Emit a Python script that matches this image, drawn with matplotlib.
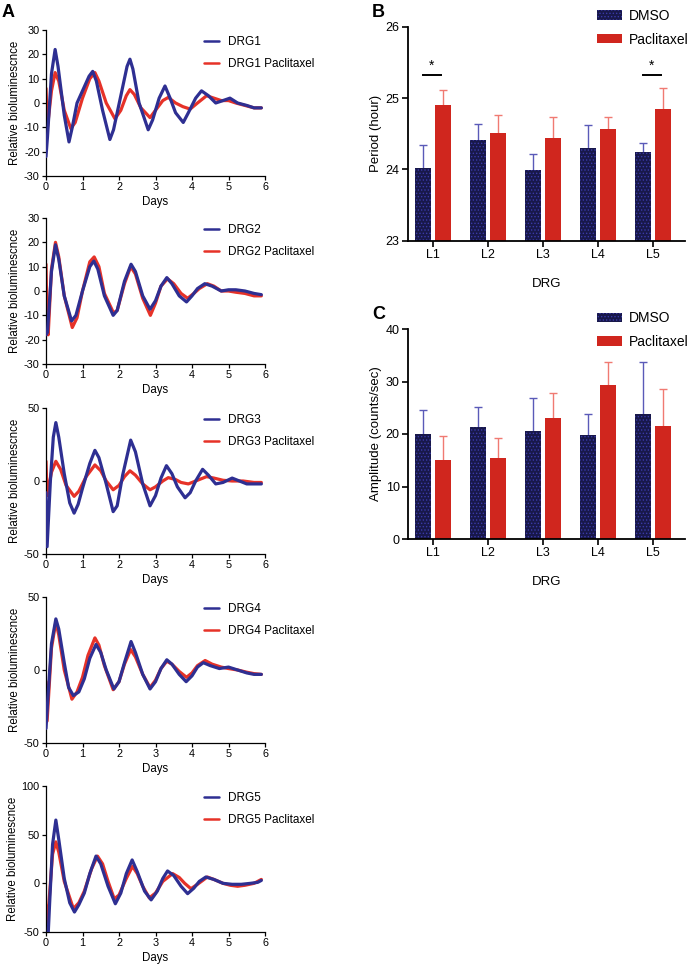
import matplotlib
matplotlib.use("Agg")
import matplotlib.pyplot as plt
import numpy as np

plt.rcParams['font.family'] = ['Liberation Sans', 'DejaVu Sans']
plt.rcParams['axes.unicode_minus'] = False
plt.rcParams['hatch.linewidth'] = 0.6

# ---------------- Panel A data ----------------
drg1_t = [0, 0.04, 0.15, 0.25, 0.33, 0.5, 0.63, 0.72, 0.85, 1.0, 1.18, 1.28, 1.38, 1.55, 1.75, 1.85, 2.05, 2.22, 2.3, 2.38, 2.55, 2.8, 2.92, 3.1, 3.26, 3.4, 3.55, 3.76, 3.9, 4.1, 4.26, 4.45, 4.65, 4.85, 5.04, 5.25, 5.5, 5.7, 5.9]
drg1_y = [-22, -14, 12, 22, 15, -5, -16, -10, 0, 5, 11, 13, 9, -3, -15, -11, 3, 15, 18, 14, 0, -11, -7, 2, 7, 2, -4, -8, -4, 2, 5, 3, 0, 1, 2, 0, -1, -2, -2]
drg1p_t = [0, 0.04, 0.15, 0.25, 0.35, 0.5, 0.68, 0.8, 1.0, 1.2, 1.34, 1.45, 1.65, 1.89, 2.05, 2.2, 2.3, 2.42, 2.6, 2.85, 3.0, 3.2, 3.35, 3.55, 3.75, 3.95, 4.15, 4.4, 4.6, 4.8, 5.0, 5.2, 5.45, 5.7, 5.9]
drg1p_y = [6, -10, 5, 12.5, 9, -3, -10.5, -8, 2, 10, 12.5, 9, 0, -6.5, -3, 3, 5.5, 3.5, -2, -6, -3, 1, 2.3, 0, -1.5, -2.5, 0, 3, 2, 1, 1, 0, -1, -2, -2]

drg2_t = [0, 0.04, 0.15, 0.26, 0.35, 0.5, 0.7, 0.82, 1.0, 1.2, 1.31, 1.42, 1.6, 1.84, 1.95, 2.15, 2.33, 2.45, 2.65, 2.85, 3.0, 3.15, 3.31, 3.45, 3.65, 3.85, 4.0, 4.15, 4.35, 4.55, 4.8, 5.0, 5.2, 5.45, 5.7, 5.9]
drg2_y = [-18, -17, 8, 19, 13, -2, -12.3, -10, 0, 10, 12.3, 9, -2, -10, -8, 4, 11, 8, -2, -7.5, -4, 2, 5.5, 3, -2, -4.5, -2, 1, 3, 2, 0, 0.5, 0.5, 0, -1, -1.5]
drg2p_t = [0, 0.03, 0.06, 0.15, 0.26, 0.35, 0.5, 0.72, 0.85, 1.0, 1.2, 1.32, 1.45, 1.6, 1.85, 1.95, 2.15, 2.32, 2.45, 2.65, 2.86, 3.0, 3.15, 3.33, 3.5, 3.7, 3.88, 4.05, 4.2, 4.42, 4.6, 4.8, 5.0, 5.2, 5.45, 5.7, 5.9]
drg2p_y = [11, -15, -18, 9, 20, 14, -2, -15, -11, 0, 12, 14, 10, -1, -9, -8, 3, 10, 7, -3, -10, -5, 2, 5, 3, -1, -3, -1, 1, 3, 2, 0, 0, -0.5, -1, -2, -2]

drg3_t = [0, 0.03, 0.12, 0.2, 0.27, 0.35, 0.5, 0.65, 0.77, 0.88, 1.0, 1.2, 1.34, 1.45, 1.65, 1.84, 1.95, 2.1, 2.32, 2.45, 2.65, 2.85, 3.0, 3.15, 3.3, 3.45, 3.6, 3.81, 3.95, 4.1, 4.29, 4.45, 4.65, 4.85, 5.1, 5.3, 5.5, 5.7, 5.9]
drg3_y = [-8, -45, 0, 30, 40, 30, 5, -15, -22, -16, -5, 12, 21, 16, -2, -21, -17, 4, 28, 20, -2, -17, -10, 2, 10.5, 5, -4, -11.5, -8, 0, 8, 4, -2, -1, 2, 0, -2, -2, -2]
drg3p_t = [0, 0.03, 0.15, 0.27, 0.4, 0.55, 0.77, 0.9, 1.1, 1.34, 1.5, 1.65, 1.84, 2.0, 2.15, 2.3, 2.45, 2.65, 2.85, 3.0, 3.2, 3.35, 3.55, 3.7, 3.9, 4.1, 4.4, 4.6, 4.85, 5.1, 5.4, 5.7, 5.9]
drg3p_y = [13.5, -10, 6, 13.5, 8, -3, -10.5, -7, 3, 11, 7, 0, -6, -3, 3, 7, 4, -2, -6, -4, 0, 2.3, 1, -1, -2, 0, 3, 2, 0.5, 0, 0, -1, -1]

drg4_t = [0, 0.05, 0.15, 0.27, 0.35, 0.5, 0.62, 0.75, 0.9, 1.05, 1.2, 1.37, 1.5, 1.65, 1.86, 2.0, 2.15, 2.33, 2.45, 2.65, 2.85, 3.0, 3.15, 3.31, 3.45, 3.65, 3.84, 4.0, 4.15, 4.31, 4.5, 4.75, 5.0, 5.25, 5.5, 5.7, 5.9]
drg4_y = [-40, -20, 18, 35, 28, 5, -12, -17.5, -15, -6, 8, 17.5, 12, 0, -13, -8, 5, 19.5, 12, -3, -13, -8, 1, 7, 4, -3, -8, -4, 2, 5, 3, 1, 2, 0, -2, -3, -3]
drg4p_t = [0, 0.03, 0.15, 0.27, 0.35, 0.5, 0.71, 0.85, 1.0, 1.15, 1.34, 1.45, 1.6, 1.84, 2.0, 2.15, 2.32, 2.45, 2.65, 2.85, 3.0, 3.15, 3.31, 3.45, 3.65, 3.85, 4.0, 4.15, 4.36, 4.55, 4.8, 5.0, 5.25, 5.5, 5.7, 5.9]
drg4p_y = [-8, -35, 15, 33, 24, 0, -20, -15, -5, 10, 22, 17, 3, -13.5, -8, 4, 14, 9, -3, -12, -7, 1, 6, 4, -1, -5, -2, 3, 6.5, 4, 2, 1, 0, -1.5, -2.5, -3]

drg5_t = [0.05, 0.1, 0.18, 0.27, 0.35, 0.5, 0.65, 0.78, 0.9, 1.05, 1.2, 1.37, 1.5, 1.7, 1.9, 2.05, 2.2, 2.36, 2.5, 2.7, 2.88, 3.05, 3.2, 3.33, 3.5, 3.7, 3.88, 4.05, 4.2, 4.38, 4.6, 4.85, 5.1, 5.35, 5.6, 5.8, 5.9]
drg5_y = [-60, -20, 40, 65, 45, 5, -20, -29.5, -22, -10, 10, 28, 20, -3, -21, -10, 10, 24, 12, -8, -17, -8, 5, 12.7, 8, -3, -10.6, -5, 2, 6.5, 4, 0, -1, -1, 0, 1, 3]
drg5p_t = [0, 0.04, 0.1, 0.18, 0.27, 0.35, 0.5, 0.75, 0.9, 1.05, 1.25, 1.41, 1.55, 1.7, 1.87, 2.0, 2.2, 2.37, 2.5, 2.65, 2.83, 3.0, 3.2, 3.47, 3.65, 3.8, 3.97, 4.15, 4.42, 4.6, 4.85, 5.05, 5.25, 5.45, 5.7, 5.9]
drg5p_y = [-23, -40, -10, 30, 42.6, 32, 2, -26, -20, -8, 15, 28, 20, 2, -16, -12, 5, 17.5, 10, -3, -15, -10, 2, 10, 6, 0, -5.5, -1, 6.5, 4, 0, -2, -3, -2, 0, 4]

panel_names = ["DRG1", "DRG2", "DRG3", "DRG4", "DRG5"]
ylims = [(-30, 30), (-30, 30), (-50, 50), (-50, 50), (-50, 100)]
yticks = [[-30, -20, -10, 0, 10, 20, 30], [-30, -20, -10, 0, 10, 20, 30],
          [-50, 0, 50], [-50, 0, 50], [-50, 0, 50, 100]]
traces = [(drg1_t, drg1_y, drg1p_t, drg1p_y), (drg2_t, drg2_y, drg2p_t, drg2p_y),
          (drg3_t, drg3_y, drg3p_t, drg3p_y), (drg4_t, drg4_y, drg4p_t, drg4p_y),
          (drg5_t, drg5_y, drg5p_t, drg5p_y)]

# ---------------- Panel B / C data ----------------
levels = ["L1", "L2", "L3", "L4", "L5"]
period_dmso = [24.02, 24.41, 23.99, 24.30, 24.24]
period_dmso_err = [0.33, 0.23, 0.23, 0.32, 0.13]
period_pac = [24.90, 24.51, 24.44, 24.57, 24.85]
period_pac_err = [0.22, 0.26, 0.29, 0.16, 0.29]
period_sig = ["*", "", "", "", "*"]

amp_dmso = [20.0, 21.4, 20.6, 19.8, 23.8]
amp_dmso_err = [4.5, 3.8, 6.2, 4.1, 10.0]
amp_pac = [15.1, 15.4, 23.1, 29.3, 21.6]
amp_pac_err = [4.6, 3.9, 4.8, 4.5, 7.0]

BLUE = '#2e2f92'
RED = '#e63228'
DMSO_FACE = '#18184a'
DMSO_HATCH = '#3a3aa8'
PAC_FACE = '#d0261e'
DMSO_ERR = '#5a5ab8'
PAC_ERR = '#f07a72'

fig = plt.figure(figsize=(6.87, 9.68), dpi=100)
W, H = 687.0, 968.0

def ax_px(left, top, right, bottom):
    return fig.add_axes([left / W, 1 - bottom / H, (right - left) / W, (bottom - top) / H])

tops = [30, 218, 408, 597, 786]
for i in range(5):
    top = tops[i]
    ax = ax_px(46, top, 265, top + 146)
    tb, yb, tp, yp = traces[i]
    ax.plot(tb, yb, color=BLUE, lw=2.3, label=panel_names[i], zorder=3,
            solid_joinstyle='round', solid_capstyle='round')
    ax.plot(tp, yp, color=RED, lw=2.3, label=panel_names[i] + " Paclitaxel", zorder=2,
            solid_joinstyle='round', solid_capstyle='round')
    ax.set_xlim(0, 6)
    ax.set_ylim(*ylims[i])
    ax.set_xticks(range(7))
    ax.set_yticks(yticks[i])
    for s in ['top', 'right']:
        ax.spines[s].set_visible(False)
    for s in ['left', 'bottom']:
        ax.spines[s].set_linewidth(0.9)
    ax.tick_params(direction='out', length=3, width=0.9, labelsize=7.8, pad=1.5)
    ax.set_xlabel("Days", fontsize=8.3, labelpad=3)
    ax.set_ylabel("Relative bioluminescnce", fontsize=8.3, labelpad=2)
    leg = ax.legend(loc='upper left', bbox_to_anchor=(0.72, 0.96), frameon=False, fontsize=8.5,
                    handlelength=1.3, handletextpad=0.8, borderpad=0, borderaxespad=0,
                    labelspacing=0.85)
    for ln in leg.get_lines():
        ln.set_linewidth(1.8)
    ax.patch.set_alpha(0)

fig.text(2 / W, 1 - 4 / H, "A", fontsize=13, fontweight='bold', va='top', ha='left')
fig.text(372 / W, 1 - 4 / H, "B", fontsize=13, fontweight='bold', va='top', ha='left')
fig.text(372 / W, 1 - 306 / H, "C", fontsize=13, fontweight='bold', va='top', ha='left')

x = np.arange(len(levels))
bw = 0.28
off = 0.18

def bar_panel(ax, d, derr, p, perr, bottom, ylim, yt, ylabel):
    d = np.array(d); p = np.array(p)
    ax.bar(x - off, d - bottom, bw, bottom=bottom, color=DMSO_FACE, edgecolor=DMSO_HATCH,
           hatch='.....', linewidth=0, label='DMSO', zorder=2)
    ax.bar(x + off, p - bottom, bw, bottom=bottom, color=PAC_FACE, linewidth=0,
           label='Paclitaxel', zorder=2)
    ax.vlines(x - off, d, d + np.array(derr), color=DMSO_ERR, lw=1.0, zorder=1)
    ax.hlines(d + np.array(derr), x - off - 0.07, x - off + 0.07, color=DMSO_ERR, lw=1.0, zorder=1)
    ax.vlines(x + off, p, p + np.array(perr), color=PAC_ERR, lw=1.0, zorder=1)
    ax.hlines(p + np.array(perr), x + off - 0.07, x + off + 0.07, color=PAC_ERR, lw=1.0, zorder=1)
    ax.set_xlim(-0.455, 4.58)
    ax.set_ylim(*ylim)
    ax.set_yticks(yt)
    ax.set_xticks(x)
    ax.set_xticklabels(levels)
    for s in ['top', 'right']:
        ax.spines[s].set_visible(False)
    for s in ['left', 'bottom']:
        ax.spines[s].set_linewidth(1.3)
    ax.tick_params(direction='out', length=4, width=1.2, labelsize=9, pad=2)
    ax.set_xlabel("DRG", fontsize=9.5, labelpad=12)
    ax.set_ylabel(ylabel, fontsize=9.5, labelpad=3)
    ax.legend(loc='upper left', bbox_to_anchor=(0.682, 1.085), frameon=False, fontsize=10,
              handlelength=1.8, handleheight=0.65, handletextpad=0.5, borderpad=0,
              borderaxespad=0, labelspacing=0.7)

axB = ax_px(408, 27, 685, 240.7)
bar_panel(axB, period_dmso, period_dmso_err, period_pac, period_pac_err, 23, (23, 26),
          [23, 24, 25, 26], "Period (hour)")
for i, s in enumerate(period_sig):
    if s:
        axB.plot([x[i] - 0.19, x[i] + 0.15], [25.32, 25.32], color='black', lw=1.4, clip_on=False)
        axB.text(x[i] - 0.02, 25.36, s, ha='center', va='bottom', fontsize=10)

axC = ax_px(408, 329, 685, 539)
bar_panel(axC, amp_dmso, amp_dmso_err, amp_pac, amp_pac_err, 0, (0, 40),
          [0, 10, 20, 30, 40], "Amplitude (counts/sec)")

fig.savefig("out.png", dpi=100)
